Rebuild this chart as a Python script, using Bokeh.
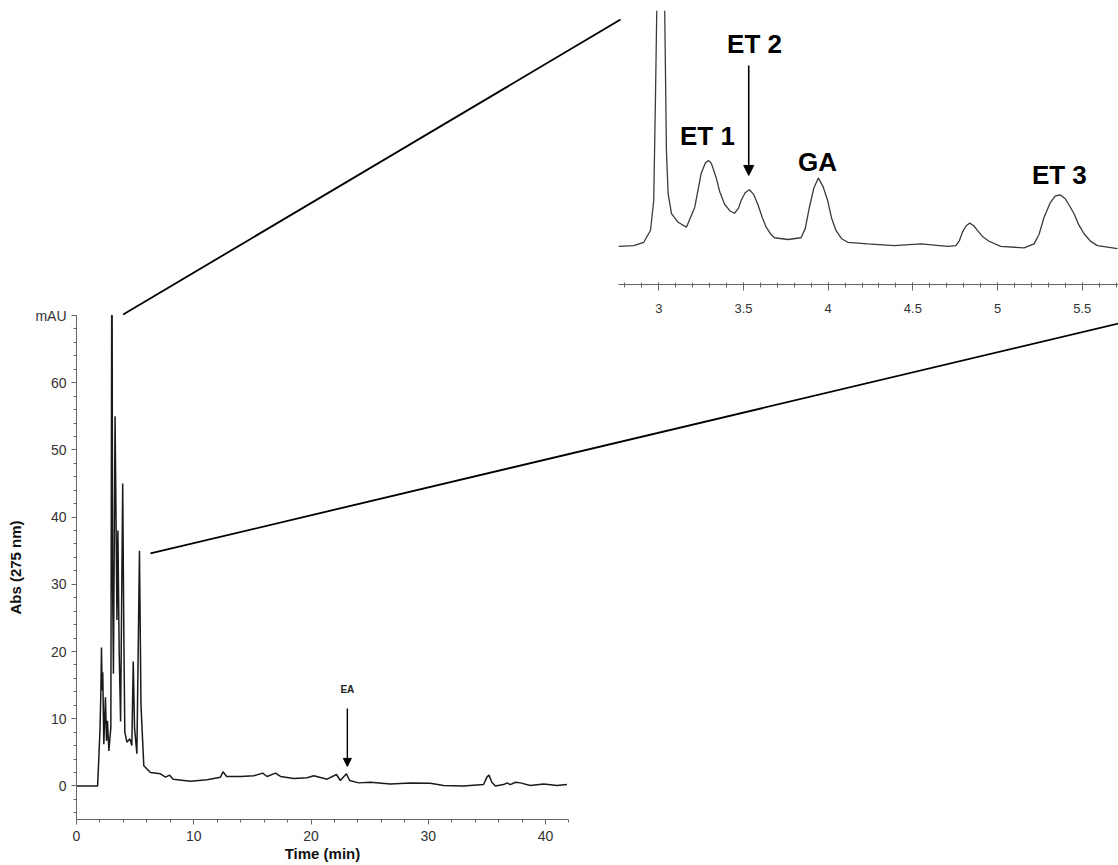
import math
from bokeh.plotting import figure
from bokeh.models import Range1d, LinearAxis, FixedTicker, Arrow, NormalHead
from bokeh.core.properties import value
from bokeh.embed import file_html
from bokeh.resources import INLINE

# ---------------- data ----------------
main_time = [0.0, 1.80, 1.90, 2.00, 2.08, 2.13, 2.19, 2.24, 2.33, 2.47, 2.56, 2.64, 2.76, 2.93,
             3.00, 3.04, 3.08, 3.15, 3.29, 3.45, 3.53, 3.64, 3.76, 3.94, 4.05, 4.12, 4.30, 4.55,
             4.72, 4.84, 4.95, 5.15, 5.37, 5.50, 5.74, 6.31, 7.16, 7.59, 7.95, 8.24, 9.72, 11.14,
             12.28, 12.50, 12.80, 13.98, 15.12, 15.88, 16.25, 16.97, 17.40, 18.53, 19.67, 20.24,
             21.37, 22.17, 22.50, 23.02, 23.30, 24.07, 25.06, 26.77, 28.47, 30.18, 31.30, 33.00,
             34.72, 35.00, 35.18, 35.43, 35.72, 36.43, 36.72, 37.00, 37.43, 37.86, 38.70, 39.84,
             40.98, 41.83]
main_abs = [0.0, 0.0, 4.0, 8.2, 14.0, 20.6, 14.2, 16.9, 6.2, 13.2, 6.7, 9.7, 5.2, 8.7,
            70.0, 70.0, 30.0, 16.7, 55.0, 24.7, 38.0, 20.0, 9.6, 45.0, 20.0, 8.0, 6.5, 7.0,
            6.0, 18.5, 8.6, 4.8, 35.0, 12.0, 3.0, 2.0, 1.8, 1.3, 1.6, 1.0, 0.7, 0.9,
            1.3, 2.1, 1.4, 1.4, 1.5, 1.9, 1.4, 1.9, 1.4, 1.1, 1.2, 1.5,
            1.0, 1.7, 0.8, 1.8, 0.8, 0.45, 0.55, 0.3, 0.45, 0.4, 0.05, 0.0,
            0.2, 1.3, 1.6, 0.55, 0.0, 0.2, 0.45, 0.2, 0.55, 0.45, 0.05, 0.3,
            0.05, 0.2]

inset_time = [2.764, 2.852, 2.911, 2.951, 2.970, 2.980, 2.988, 3.010, 3.035, 3.045, 3.055, 3.075,
              3.114, 3.163, 3.212, 3.250, 3.275, 3.293, 3.310, 3.338, 3.360, 3.388, 3.420, 3.447,
              3.470, 3.486, 3.510, 3.535, 3.560, 3.584, 3.610, 3.634, 3.660, 3.683, 3.762, 3.840,
              3.865, 3.889, 3.915, 3.942, 3.970, 3.997, 4.020, 4.046, 4.080, 4.115, 4.233, 4.390,
              4.548, 4.705, 4.754, 4.775, 4.793, 4.815, 4.836, 4.860, 4.881, 4.915, 4.950, 5.019,
              5.157, 5.216, 5.245, 5.275, 5.310, 5.340, 5.369, 5.400, 5.425, 5.452, 5.480, 5.511,
              5.550, 5.590, 5.708]
inset_abs = [5.6, 6.1, 8.0, 14.8, 32.0, 89.0, 141.0, float("nan"), 141.0, 60.7, 36.0, 24.5,
             19.5, 16.7, 28.0, 47.5, 53.5, 55.0, 53.5, 45.4, 37.0, 30.0, 26.0, 24.7,
             27.5, 32.0, 36.5, 38.2, 35.5, 30.0, 22.5, 16.7, 12.8, 10.6, 9.6, 10.6,
             16.0, 28.0, 39.0, 45.0, 40.0, 32.0, 22.0, 14.8, 10.0, 8.0, 7.1, 6.1,
             7.1, 5.6, 6.1, 9.0, 13.8, 17.5, 19.0, 17.5, 14.8, 11.0, 8.6, 5.6,
             4.8, 7.1, 12.5, 22.4, 30.5, 34.5, 35.3, 33.0, 29.0, 24.4, 18.0, 12.9,
             8.5, 6.1, 4.3]

main_x_ticks = [0, 10, 20, 30, 40]
main_y_ticks = [0, 10, 20, 30, 40, 50, 60, 70]
inset_x_ticks = [3, 3.5, 4, 4.5, 5, 5.5]

peak_labels = ["ET 1", "ET 2", "GA", "ET 3"]
peak_label_time = [3.287, 3.565, 3.937, 5.365]
peak_label_abs = [68.8, 121.7, 54.0, 46.8]

# ---------------- layout geometry ----------------
W, H = 1118, 865


def xrange_for(p0, v0, p1, v1):
    s = (v1 - v0) / (p1 - p0)
    return Range1d(v0 + (0 - p0) * s, v0 + (W - p0) * s)


def yrange_for(p0, v0, p1, v1):
    s = (v1 - v0) / (p1 - p0)
    return Range1d(v0 + (H - p0) * s, v0 + (0 - p0) * s)


main_xr = xrange_for(76, 0, 545, 40)
main_yr = yrange_for(819, -5, 315, 70)
ins_xr = xrange_for(658.3, 3, 1081.7, 5.5)
ins_yr = yrange_for(247, 5, 160, 55)


def px_x(r, v):
    return (v - r.start) / (r.end - r.start) * W


def px_y(r, v):
    return H - (v - r.start) / (r.end - r.start) * H


def inv_x(r, p):
    return r.start + p / W * (r.end - r.start)


def inv_y(r, p):
    return r.start + (H - p) / H * (r.end - r.start)


p = figure(width=W, height=H, x_range=main_xr, y_range=main_yr,
           x_axis_type=None, y_axis_type=None, toolbar_location=None,
           output_backend="svg", min_border=0, outline_line_color=None)
p.grid.visible = False
p.extra_x_ranges = {"ix": ins_xr}
p.extra_y_ranges = {"iy": ins_yr}

FONT = "Liberation Sans"
AXC = "#666666"
TXC = "#333333"

# main x axis
xa = LinearAxis(fixed_location=-5, bounds=(0, 42),
                ticker=FixedTicker(ticks=main_x_ticks, minor_ticks=list(range(0, 43, 2))),
                axis_label="Time (min)")
# main y axis
ya = LinearAxis(fixed_location=0, bounds=(-5, 70),
                ticker=FixedTicker(ticks=main_y_ticks, minor_ticks=list(range(-4, 71, 2))),
                axis_label="Abs (275 nm)", major_label_overrides={70: "mAU"})
# inset x axis
ins_axis_loc = inv_y(ins_yr, 284.3)
ia = LinearAxis(x_range_name="ix", y_range_name="iy", fixed_location=ins_axis_loc,
                bounds=(inv_x(ins_xr, 618.3), inv_x(ins_xr, W)),
                ticker=FixedTicker(ticks=inset_x_ticks,
                                   minor_ticks=[round(2.8 + 0.1 * i, 1) for i in range(30)]),
                major_label_overrides={3: "3", 4: "4", 5: "5"})

for ax in (xa, ya, ia):
    ax.axis_line_color = AXC
    ax.major_tick_line_color = AXC
    ax.minor_tick_line_color = AXC
    ax.major_label_text_font = FONT
    ax.major_label_text_font_size = "14px"
    ax.major_label_text_color = TXC
    ax.axis_label_text_font = FONT
    ax.axis_label_text_font_style = "bold"
    ax.axis_label_text_font_size = "15px"
    ax.axis_label_text_color = "#111111"
    ax.major_tick_out = 5
    ax.major_tick_in = 0
    ax.minor_tick_out = 3
    ax.minor_tick_in = 0

ia.major_label_text_font_size = "13px"
xa.major_label_standoff = 6
xa.axis_label_standoff = 1
ya.major_label_standoff = 5
ya.axis_label_standoff = 8
ia.major_tick_in = 2
ia.major_tick_out = 6
ia.minor_tick_in = 2
ia.minor_tick_out = 3
ia.major_label_standoff = 13

p.add_layout(xa, "below")
p.add_layout(ya, "left")
p.add_layout(ia, "below")

# chromatograms
p.line(main_time, main_abs, line_color="#1a1a1a", line_width=1.5)
p.line(inset_time, inset_abs, x_range_name="ix", y_range_name="iy",
       line_color="#3a3a3a", line_width=1.3)

# zoom connector lines (from main trace to inset corners)
c1_start = (3.98, 70.15)
c1_end = (inv_x(main_xr, px_x(ins_xr, 2.774)), inv_y(main_yr, px_y(ins_yr, 136.0)))
c2_start = (6.31, 34.6)
c2_end = (inv_x(main_xr, px_x(ins_xr, 5.714)), inv_y(main_yr, px_y(ins_yr, -38.7)))
p.segment(x0=[c1_start[0], c2_start[0]], y0=[c1_start[1], c2_start[1]],
          x1=[c1_end[0], c2_end[0]], y1=[c1_end[1], c2_end[1]],
          line_color="black", line_width=1.8)

# inset peak labels
p.text(x=peak_label_time, y=peak_label_abs, text=peak_labels,
       x_range_name="ix", y_range_name="iy",
       text_font=value(FONT), text_font_style="bold", text_font_size="26px",
       text_align="center", text_baseline="middle", text_color="black")

# ET 2 arrow
p.add_layout(Arrow(x_start=3.531, y_start=109.6, x_end=3.531, y_end=46.4,
                   x_range_name="ix", y_range_name="iy", line_width=1.6, line_color="black",
                   end=NormalHead(size=10, fill_color="black", line_color="black")))

# EA label + arrow on main trace
p.text(x=[23.1], y=[14.3], text=["EA"], text_font=value(FONT), text_font_style="bold",
       text_font_size="10px", text_align="center", text_baseline="middle", text_color="#222222")
p.add_layout(Arrow(x_start=23.1, y_start=11.5, x_end=23.1, y_end=2.9,
                   line_width=1.4, line_color="black",
                   end=NormalHead(size=8, fill_color="black", line_color="black")))

open("out.html", "w").write(file_html(p, INLINE))
